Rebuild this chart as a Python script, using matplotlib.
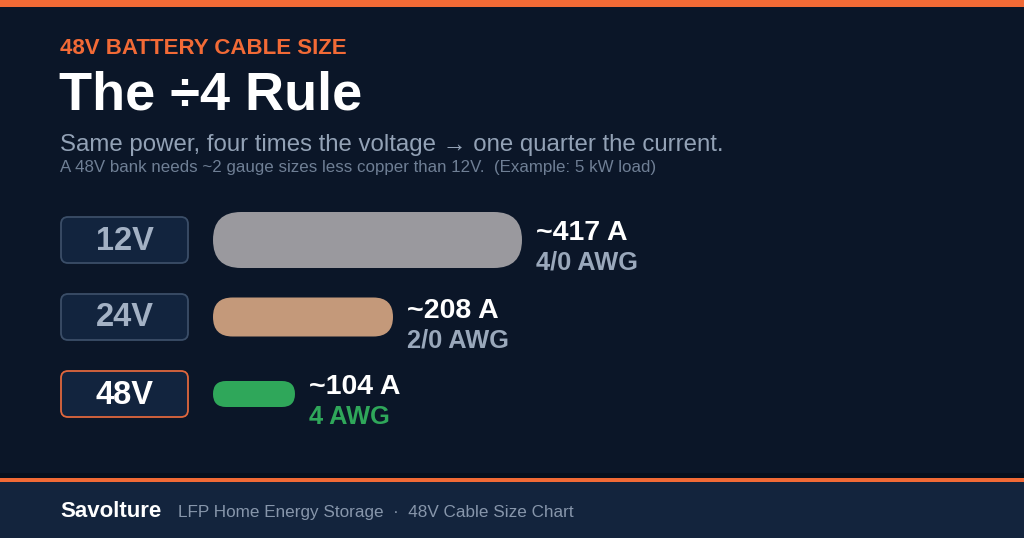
import matplotlib
matplotlib.use("Agg")
import matplotlib.pyplot as plt
from matplotlib.patches import FancyBboxPatch, Rectangle

# data
voltages = ["12V", "24V", "48V"]
currents = [417, 208, 104]
awg_sizes = ["4/0 AWG", "2/0 AWG", "4 AWG"]
cable_len = [309, 180, 82]   # relative cable bar length

kicker = "48V BATTERY CABLE SIZE"
title = "The \u00f74 Rule"
subtitle = "Same power, four times the voltage \u2192 one quarter the current."
note = "A 48V bank needs ~2 gauge sizes less copper than 12V.  (Example: 5 kW load)"
brand = "Savolture"
footer = "LFP Home Energy Storage  \u00b7  48V Cable Size Chart"

# styles
BG = "#0b1628"
FOOT_BG = "#13243d"
ORANGE = "#f26a36"
BOX_FILL = "#12243e"
BOX_EDGE = "#3b4e68"
MUTED = "#a3b1c4"
bar_colors = ["#9a999e", "#c4997a", "#2fa75a"]
bar_thick = [56, 39, 26]
awg_colors = ["#9aa8bb", "#9aa8bb", "#2fa75a"]
volt_colors = [MUTED, MUTED, "white"]
box_edges = [BOX_EDGE, BOX_EDGE, "#e0673d"]

plt.rcParams["font.family"] = ["Liberation Sans", "DejaVu Sans"]

fig = plt.figure(figsize=(10.24, 5.38), dpi=100, facecolor=BG)
ax = fig.add_axes([0, 0, 1, 1])
ax.set_xlim(0, 1024)
ax.set_ylim(538, 0)
ax.axis("off")
ax.set_facecolor(BG)

# top strip and footer
ax.add_patch(Rectangle((0, 0), 1024, 7, color=ORANGE, lw=0))
ax.add_patch(Rectangle((0, 473), 1024, 5, color="#070f1c", lw=0))
ax.add_patch(Rectangle((0, 478), 1024, 4, color=ORANGE, lw=0))
ax.add_patch(Rectangle((0, 482), 1024, 56, color=FOOT_BG, lw=0))

# headings
ax.text(60, 54, kicker, color=ORANGE, fontsize=16, fontweight="bold", va="baseline")
ax.text(59, 110, title, color="white", fontsize=39, fontweight="bold", va="baseline")
ax.text(60, 151, subtitle, color="#93a2b6", fontsize=17.3, va="baseline")
ax.text(60, 172, note, color="#6f7f95", fontsize=12.2, va="baseline")

# rows
row_y = [240, 317, 394]
box_x, box_w, box_h = 61, 127, 46
bar_x = 213
for i, v in enumerate(voltages):
    y = row_y[i]
    ax.add_patch(FancyBboxPatch((box_x, y - box_h / 2), box_w, box_h,
                                boxstyle="round,pad=0,rounding_size=7",
                                facecolor=BOX_FILL, edgecolor=box_edges[i], lw=1.3))
    ax.text(box_x + box_w / 2, y + 1, v, color=volt_colors[i], fontsize=23.5,
            fontweight="bold", ha="center", va="center")

    h = bar_thick[i]
    w = cable_len[i]
    ax.add_patch(FancyBboxPatch((bar_x, y - h / 2), w, h,
                                boxstyle="round,pad=0,rounding_size=%g" % (h / 2),
                                facecolor=bar_colors[i], edgecolor="none"))
    tx = bar_x + w + 14
    ax.text(tx, y + 0.5, "~%d A" % currents[i], color="white", fontsize=20.5,
            fontweight="bold", va="baseline")
    ax.text(tx, y + 30, awg_sizes[i], color=awg_colors[i], fontsize=18.3,
            fontweight="bold", va="baseline")

# footer text
ax.text(60, 517, brand, color="white", fontsize=16, fontweight="bold", va="baseline")
ax.text(178, 517, footer, color="#8796ab", fontsize=12.3, va="baseline")

fig.savefig("out.png", dpi=100, facecolor=BG)
